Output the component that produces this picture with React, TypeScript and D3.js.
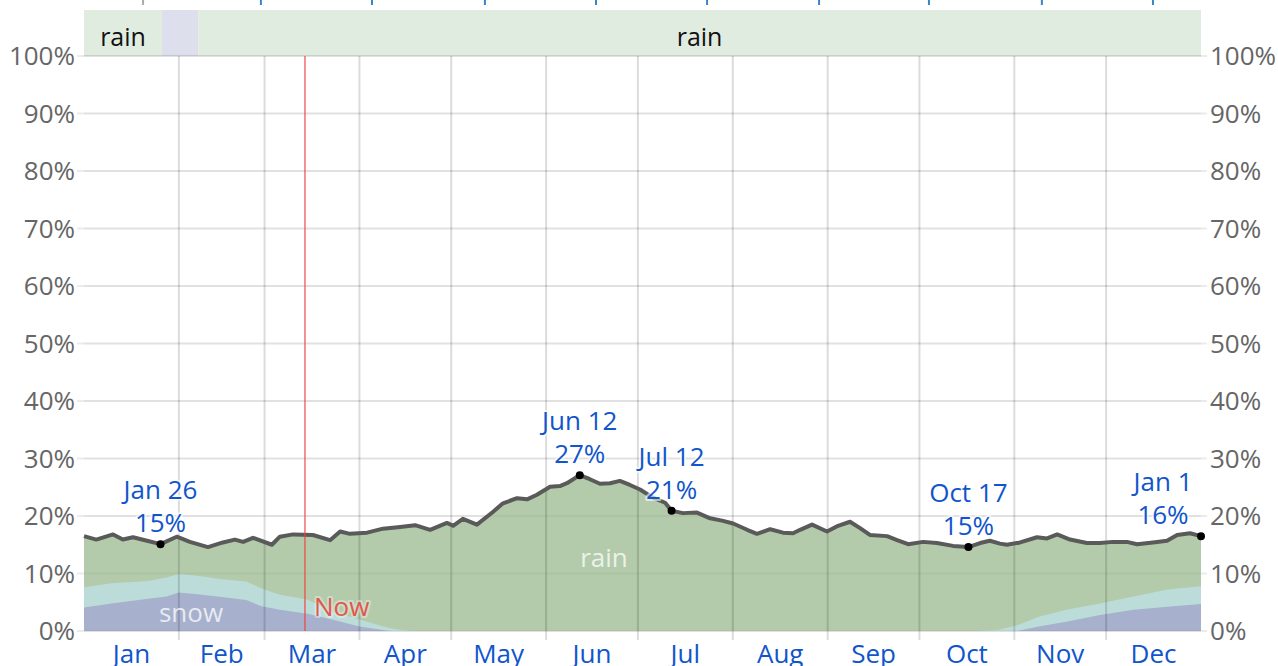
import React from "react";
import * as d3 from "d3";

// ---------- data ----------
const monthNames = ["Jan", "Feb", "Mar", "Apr", "May", "Jun", "Jul", "Aug", "Sep", "Oct", "Nov", "Dec"];
const monthStarts = [0, 31, 59, 90, 120, 151, 181, 212, 243, 273, 304, 334, 365];
const yTicks = [0, 10, 20, 30, 40, 50, 60, 70, 80, 90, 100];

// total precipitation probability (%) by day of year
const totalDays = [0, 4, 9.5, 12.7, 16, 20.6, 25, 30.3, 34.6, 40.5, 45.4, 49.3, 52, 55.2, 61.4, 64, 68.3, 74.8, 80.4, 83.7, 86.9, 92.5, 97.7, 103.3, 108.2, 113.1, 118.6, 120.6, 123.8, 128.4, 133.6, 136.9, 141.5, 144.8, 148, 152.3, 155.5, 157.8, 162, 165.3, 168.6, 171.9, 175.1, 178.4, 181.7, 185.9, 189.9, 192, 195.7, 200.3, 204.6, 208.5, 212.1, 216.7, 219.9, 224.2, 228.4, 231.7, 234, 237.9, 242.8, 246.4, 250.3, 253.6, 256.8, 262.4, 265.7, 269.3, 274.2, 278.7, 284, 289, 292.8, 296, 299.3, 301.6, 305.9, 311.4, 314.7, 318, 322.2, 327.7, 332, 336.2, 340.8, 344.1, 349.3, 353.9, 357.2, 361.4, 365];
const totalValues = [16.5, 15.9, 16.8, 15.9, 16.3, 15.7, 15.1, 16.4, 15.5, 14.6, 15.4, 15.9, 15.5, 16.2, 15.0, 16.4, 16.8, 16.7, 15.8, 17.3, 16.9, 17.1, 17.8, 18.1, 18.4, 17.6, 18.8, 18.3, 19.5, 18.5, 20.7, 22.2, 23.1, 22.9, 23.7, 25.1, 25.2, 25.7, 27.1, 26.4, 25.6, 25.7, 26.1, 25.4, 24.6, 23.2, 22.3, 20.9, 20.5, 20.6, 19.6, 19.2, 18.7, 17.6, 16.9, 17.7, 17.1, 17.0, 17.6, 18.5, 17.3, 18.3, 19.0, 17.9, 16.7, 16.5, 15.8, 15.1, 15.5, 15.3, 14.8, 14.6, 15.3, 15.7, 15.2, 15.0, 15.4, 16.3, 16.1, 16.8, 15.9, 15.3, 15.3, 15.5, 15.5, 15.1, 15.4, 15.7, 16.7, 17.0, 16.5];

// snow and mixed components (%)
const bandDays = [0, 9, 21, 27, 31, 37, 45, 53, 58, 64, 73, 81, 90, 97, 100, 103, 107, 292, 299, 305, 312, 321, 332, 343, 354, 365];
const snowValues = [4.1, 4.8, 5.6, 6.0, 6.7, 6.4, 5.9, 5.4, 4.3, 3.7, 3.0, 2.0, 0.8, 0.2, 0, 0, 0, 0, 0, 0, 0.8, 1.6, 2.8, 3.7, 4.2, 4.7];
const mixedValues = [3.5, 3.5, 3.1, 3.3, 3.2, 3.2, 3.1, 3.2, 3.1, 2.6, 2.5, 1.4, 1.2, 0.7, 0.5, 0.2, 0, 0, 0.2, 1.0, 1.7, 2.1, 2.0, 2.3, 3.0, 3.1];

// annotations
const annoDays = [25, 162, 192, 289, 365];
const annoDates = ["Jan 26", "Jun 12", "Jul 12", "Oct 17", "Jan 1"];
const annoValues = [15.1, 27.1, 20.9, 14.6, 16.5];
const annoLabels = ["15%", "27%", "21%", "15%", "16%"];

// dominant type strip
const stripStarts = [0, 25.5, 37.3];
const stripEnds = [25.5, 37.3, 365];
const stripTypes = ["rain", "snow", "rain"];
const stripLabels = ["rain", "", "rain"];

const nowDay = 72.2;
const topTickDays = [19.3, 57.8, 94.1, 131, 167.3, 203.6, 240.2, 276.1, 313, 349.3];

// ---------- styles ----------
const FONT = "'Open Sans', 'Noto Sans', sans-serif";
const FS = 26;
const C_RAIN = "#b3cbab";
const C_MIXED = "#bcdcd9";
const C_SNOW = "#a7b0cc";
const C_STRIP: Record<string, string> = { rain: "#e1ece0", snow: "#dde0ec" };
const BLUE = "#1155cc";

export default function App() {
  const W = 1278, H = 666;
  const x = d3.scaleLinear().domain([0, 365]).range([84, 1201]);
  const y = d3.scaleLinear().domain([0, 100]).range([631, 56]);

  const totalPts = totalDays.map((d, i) => [d, totalValues[i]] as [number, number]);
  const bandPts = bandDays.map((d, i) => ({ d, s: snowValues[i], m: snowValues[i] + mixedValues[i] }));

  const rainArea = d3.area<[number, number]>().x(p => x(p[0])).y0(y(0)).y1(p => y(p[1]))(totalPts) || "";
  const mixedArea = d3.area<any>().x(p => x(p.d)).y0(y(0)).y1(p => y(p.m))(bandPts) || "";
  const snowArea = d3.area<any>().x(p => x(p.d)).y0(y(0)).y1(p => y(p.s))(bandPts) || "";
  const totalLine = d3.line<[number, number]>().x(p => x(p[0])).y(p => y(p[1]))(totalPts) || "";

  const stripTop = 10;
  const halo = { stroke: "white", strokeWidth: 4, strokeOpacity: 0.6, paintOrder: "stroke" as const, strokeLinejoin: "round" as const };

  return (
    <svg width={W} height={H} style={{ position: "absolute", left: 0, top: 0, background: "white" }} fontFamily={FONT}>
      {/* top ticks from chart above */}
      {topTickDays.map((d, i) => (
        <rect key={"tt" + i} x={x(d) - 1} y={0} width={2} height={5} fill={i === 0 ? "#aaa" : "#3b82c9"} />
      ))}
      {/* strip */}
      {stripStarts.map((s, i) => (
        <g key={"st" + i}>
          <rect x={x(s)} y={stripTop} width={x(stripEnds[i]) - x(s)} height={y(100) - stripTop} fill={C_STRIP[stripTypes[i]]} />
          {stripLabels[i] && (
            <text x={(x(s) + x(stripEnds[i])) / 2} y={37} dy="0.35em" textAnchor="middle" fontSize={FS - 1} fill="#111">
              {stripLabels[i]}
            </text>
          )}
        </g>
      ))}
      {/* horizontal grid */}
      {yTicks.map(t => (
        <line key={"hg" + t} x1={77} x2={1207} y1={y(t)} y2={y(t)} stroke="#000" strokeOpacity={0.08} strokeWidth={2} />
      ))}
      {/* areas */}
      <path d={rainArea} fill={C_RAIN} />
      <path d={mixedArea} fill={C_MIXED} />
      <path d={snowArea} fill={C_SNOW} />
      {/* horizontal grid overlay in area */}
      {yTicks.map(t => (
        <line key={"hg2" + t} x1={84} x2={1201} y1={y(t)} y2={y(t)} stroke="#000" strokeOpacity={0.04} strokeWidth={2} />
      ))}
      {/* vertical grid */}
      {monthStarts.slice(1, 12).map(d => (
        <line key={"vg" + d} x1={x(d)} x2={x(d)} y1={y(100)} y2={y(0) + 9} stroke="#000" strokeOpacity={0.14} strokeWidth={2} />
      ))}
      {/* area labels */}
      <text x={604} y={y(12.8)} dy="0.35em" textAnchor="middle" fontSize={FS} fill="white" fillOpacity={0.75}>rain</text>
      <text x={191} y={y(3.1)} dy="0.35em" textAnchor="middle" fontSize={FS} fill="white" fillOpacity={0.75}>snow</text>
      {/* total line */}
      <path d={totalLine} fill="none" stroke="#5a5a5a" strokeWidth={4} strokeLinejoin="round" />
      {/* now */}
      <line x1={x(nowDay)} x2={x(nowDay)} y1={y(100)} y2={y(0)} stroke="#f03c3c" strokeOpacity={0.75} strokeWidth={1.5} />
      <text x={x(nowDay) + 9} y={y(4.2)} dy="0.35em" fontSize={FS} fill="#e0584f" {...halo} strokeOpacity={0.35}>Now</text>
      {/* y axis labels */}
      {yTicks.map(t => (
        <g key={"yl" + t}>
          <text x={75} y={y(t)} dy="0.35em" textAnchor="end" fontSize={FS} fill="#666">{t}%</text>
          <text x={1210} y={y(t)} dy="0.35em" textAnchor="start" fontSize={FS} fill="#666">{t}%</text>
        </g>
      ))}
      {/* month labels */}
      {monthNames.map((m, i) => (
        <text key={m} x={x((monthStarts[i] + monthStarts[i + 1]) / 2)} y={663} textAnchor="middle" fontSize={FS} fill={BLUE}>{m}</text>
      ))}
      {/* annotations */}
      {annoDays.map((d, i) => {
        const cx = x(d), cy = y(annoValues[i]);
        const tx = Math.min(cx, x(365) - 38);
        return (
          <g key={"an" + i}>
            <text x={tx} y={cy - 45} textAnchor="middle" fontSize={FS} fill={BLUE} {...halo}>{annoDates[i]}</text>
            <text x={tx} y={cy - 12} textAnchor="middle" fontSize={FS} fill={BLUE} {...halo}>{annoLabels[i]}</text>
            <circle cx={cx} cy={cy} r={4} fill="#000" />
          </g>
        );
      })}
    </svg>
  );
}
